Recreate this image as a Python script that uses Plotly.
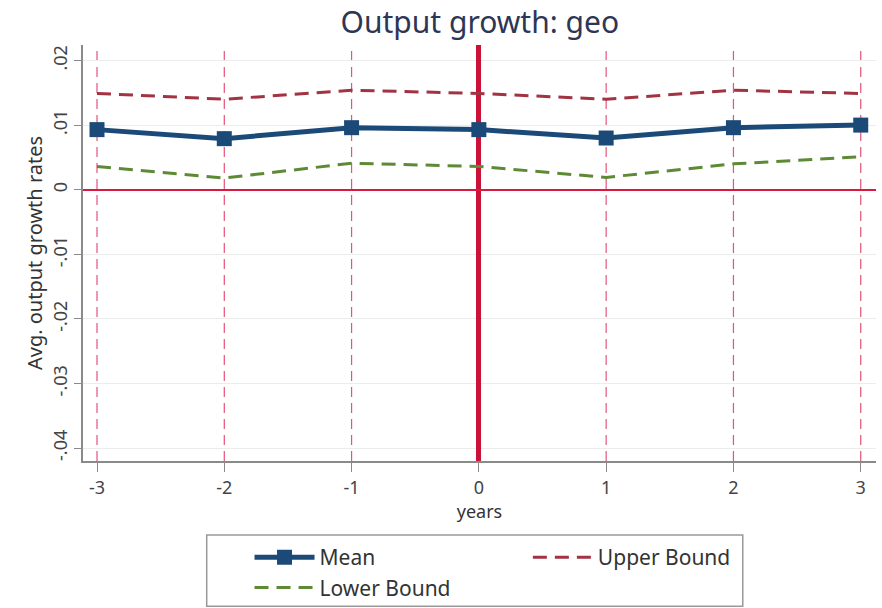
import plotly.graph_objects as go

years = [-3, -2, -1, 0, 1, 2, 3]
mean_vals = [0.0093, 0.0079, 0.0096, 0.0093, 0.0080, 0.0096, 0.0100]
upper_vals = [0.0149, 0.0140, 0.0154, 0.0149, 0.0140, 0.0154, 0.0149]
lower_vals = [0.0036, 0.0018, 0.0041, 0.0036, 0.0019, 0.0040, 0.0051]
y_tick_vals = [0.02, 0.01, 0.0, -0.01, -0.02, -0.03, -0.04]
y_tick_text = [".02", ".01", "0", "-.01", "-.02", "-.03", "-.04"]

FONT = "Noto Sans"

fig = go.Figure()
fig.add_trace(go.Scatter(
    x=years, y=mean_vals, name="Mean", mode="lines+markers",
    line=dict(color="#1c4a78", width=5),
    marker=dict(symbol="square", size=15, color="#1c4a78"),
    legend="legend",
))
fig.add_trace(go.Scatter(
    x=years, y=upper_vals, name="Upper Bound", mode="lines",
    line=dict(color="#a23343", width=3, dash="14px,8px"),
    legend="legend2",
))
fig.add_trace(go.Scatter(
    x=years, y=lower_vals, name="Lower Bound", mode="lines",
    line=dict(color="#5e8a36", width=3, dash="14px,8px"),
    legend="legend",
))

# vertical reference lines at each year (thin dashed), thick solid at event year 0
shapes = []
for yr in years:
    if yr == 0:
        continue
    shapes.append(dict(type="line", xref="x", yref="paper", x0=yr, x1=yr, y0=0, y1=1,
                       layer="below", line=dict(color="#e2557a", width=1.2, dash="10px,6px")))
shapes.append(dict(type="rect", xref="paper", yref="paper",
                   x0=0.156, x1=0.832, y0=-0.349, y1=-0.178,
                   line=dict(color="#999999", width=1.5), fillcolor="rgba(0,0,0,0)"))

fig.update_layout(
    width=882, height=608,
    margin=dict(l=83, r=6, t=45, b=147, autoexpand=False),
    paper_bgcolor="white", plot_bgcolor="white",
    font=dict(family=FONT, color="#444444", size=16),
    title=dict(text="Output growth: geo", x=0.544, xanchor="center", y=0.963, yanchor="middle",
               font=dict(family=FONT, size=30, color="#2e3656")),
    xaxis=dict(
        range=[-3.11, 3.12], tickvals=years, ticktext=[str(v) for v in years],
        showgrid=False,
        zeroline=True, zerolinecolor="#cc1138", zerolinewidth=5,
        showline=True, linecolor="#8a8a8a", linewidth=2,
        ticks="outside", ticklen=9, tickcolor="#8a8a8a",
        tickfont=dict(size=18, color="#444444"),
        title=dict(text="years", font=dict(size=18, color="#333333"), standoff=0),
    ),
    yaxis=dict(
        range=[-0.042, 0.0224], tickvals=y_tick_vals, ticktext=y_tick_text,
        tickangle=-90,
        showgrid=True, gridcolor="#ececec", gridwidth=1,
        zeroline=True, zerolinecolor="#d81a40", zerolinewidth=1.5,
        showline=True, linecolor="#8a8a8a", linewidth=2,
        ticks="outside", ticklen=7, tickcolor="#8a8a8a",
        tickfont=dict(size=18, color="#444444"),
        title=dict(text="Avg. output growth rates", font=dict(size=20, color="#333333"), standoff=0),
    ),
    legend=dict(x=0.21, y=-0.183, xanchor="left", yanchor="top", orientation="v",
                bgcolor="rgba(0,0,0,0)", font=dict(size=21, color="#333333"),
                tracegroupgap=0, itemwidth=60),
    legend2=dict(x=0.561, y=-0.183, xanchor="left", yanchor="top", orientation="v",
                 bgcolor="rgba(0,0,0,0)", font=dict(size=21, color="#333333"),
                 itemwidth=60),
    shapes=shapes,
)

fig.write_html("out.html")
